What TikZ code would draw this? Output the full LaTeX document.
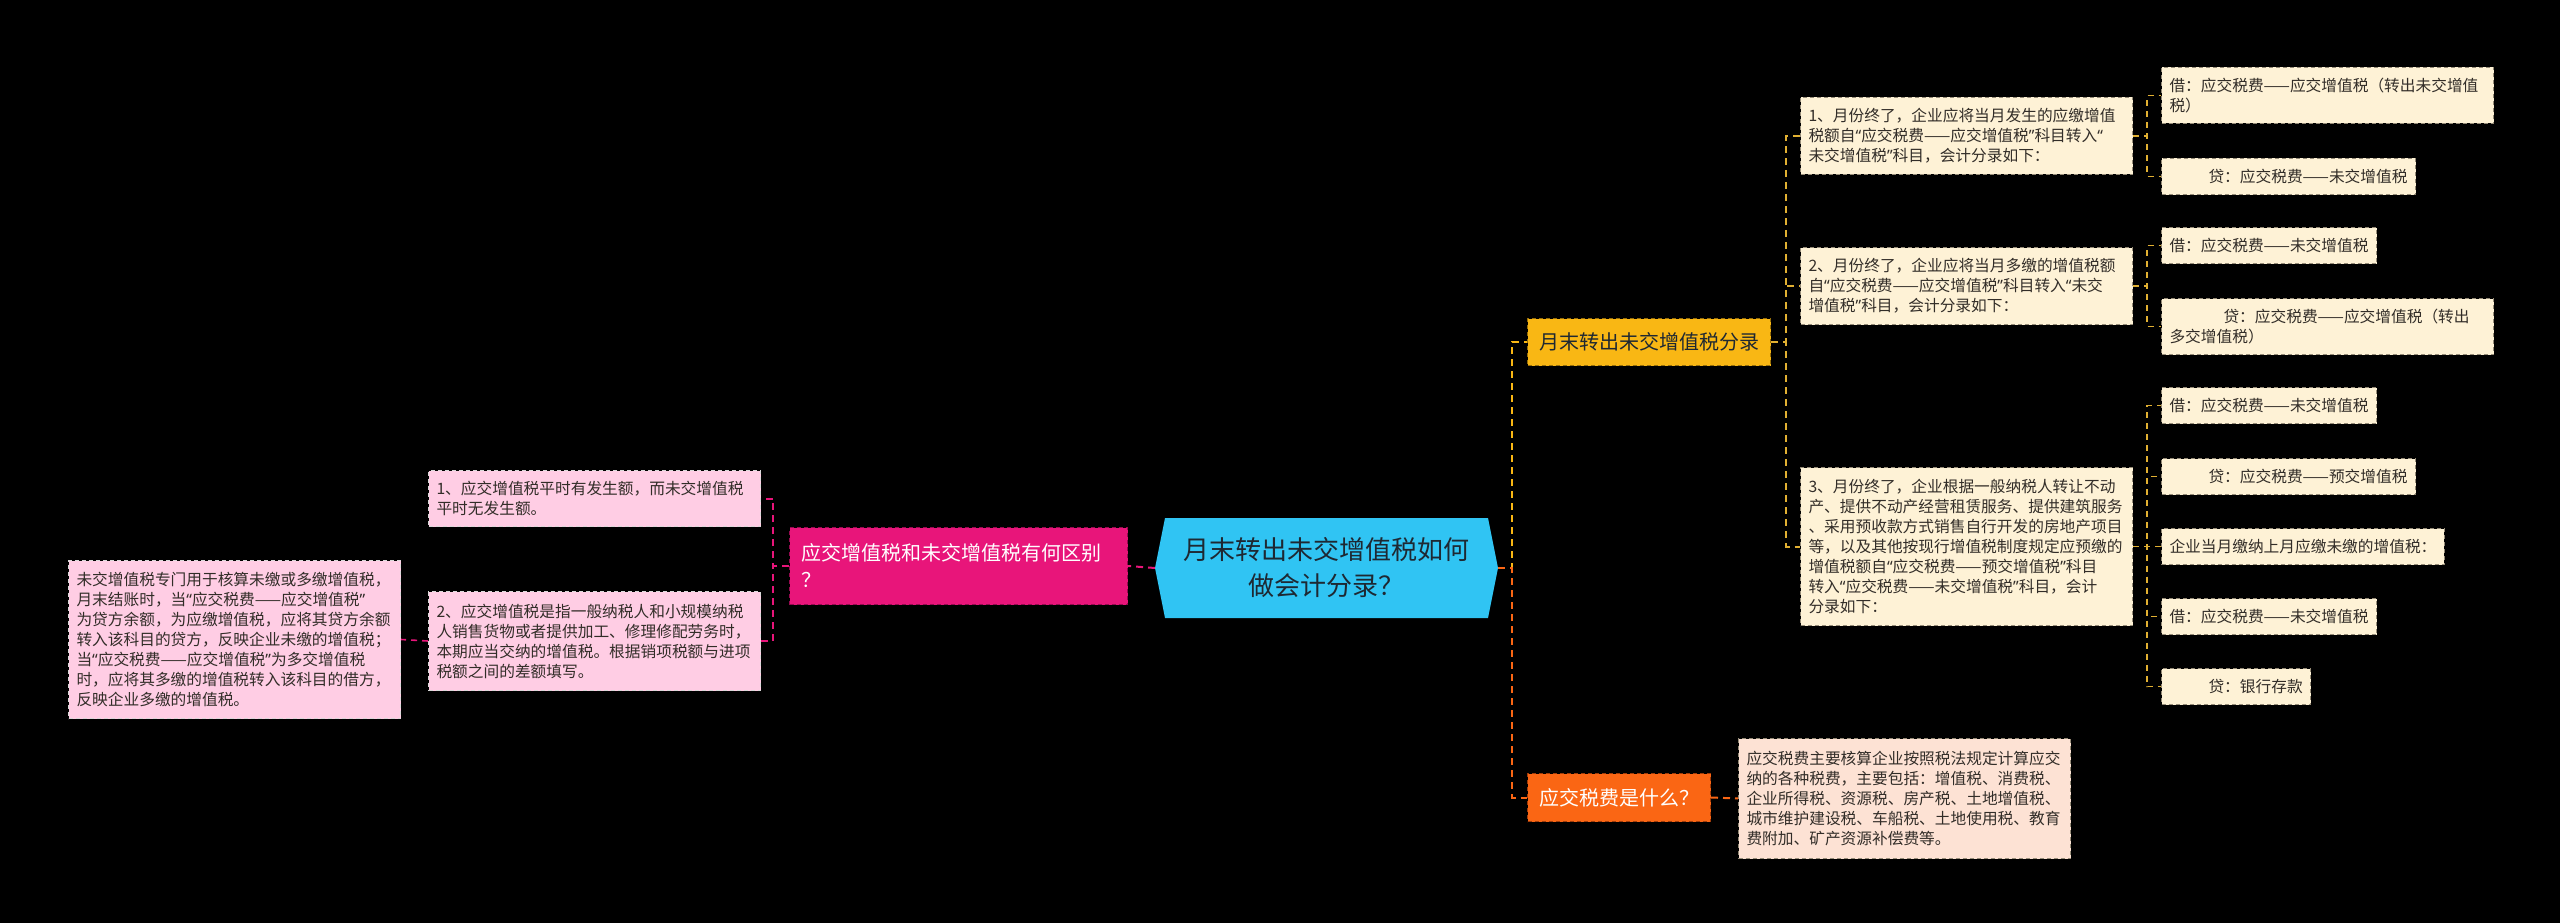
\documentclass[tikz,border=0pt]{standalone}
\usepackage{fontspec}
\setmainfont{Noto Sans CJK SC}
\newfontfamily\myqfont{Noto Sans}
\newcommand\myql{{\myqfont “}}
\newcommand\myqr{{\myqfont ”}}
\newcommand\myln[1]{\mbox{#1}}
\definecolor{rootc}{RGB}{48,196,243}
\definecolor{roott}{RGB}{30,40,50}
\definecolor{yel}{RGB}{249,183,20}
\definecolor{yelb}{RGB}{150,110,10}
\definecolor{ora}{RGB}{250,102,20}
\definecolor{orab}{RGB}{160,60,10}
\definecolor{mag}{RGB}{232,21,122}
\definecolor{magb}{RGB}{150,10,80}
\definecolor{pinkb}{RGB}{255,205,228}
\definecolor{cream}{RGB}{254,242,214}
\definecolor{peach}{RGB}{253,226,212}
\definecolor{txt}{RGB}{50,45,40}
\definecolor{ylline}{RGB}{225,176,50}
\definecolor{bord}{RGB}{150,140,120}
\tikzset{
  conn/.style={line width=2pt, dash pattern=on 7pt off 5pt},
  connb/.style={line width=1.6pt, dash pattern=on 6pt off 5pt},
  smallfont/.style={font=\fontsize{15.7}{20}\selectfont},
  multibox/.style={smallfont, anchor=north west, align=left, text width=316pt, inner xsep=8pt, inner ysep=0pt, text=txt, draw=bord, line width=1pt, dash pattern=on 4pt off 3pt},
  onebox/.style={smallfont, anchor=north west, inner xsep=8pt, inner ysep=0pt, minimum height=36pt, text=txt, fill=cream, draw=bord, line width=1pt, dash pattern=on 4pt off 3pt},
  lvone/.style={font=\fontsize{20}{27}\selectfont, inner xsep=11.5pt, inner ysep=0pt, line width=1pt, dash pattern=on 4pt off 3pt},
  roottext/.style={font=\fontsize{26}{36}\selectfont, align=center, text=roott, minimum width=323pt, minimum height=100pt, inner sep=0pt}
}
\begin{document}
\begin{tikzpicture}[x=1pt,y=-1pt]
\useasboundingbox (0,0) rectangle (2560,923);
\fill[black] (0,0) rectangle (2560,923);
% root
\fill[rootc] (1155,568) -- (1165,518) -- (1488,518) -- (1498,568) -- (1488,618) -- (1165,618) -- cycle;
\node[roottext] (root) at (1326.5,568) {月末转出未交增值税如何\\做会计分录？};
\coordinate (rootE) at (1498,568);
\coordinate (rootW) at (1155,568);
% level one
\node[lvone, fill=yel, draw=yelb, text=roott, anchor=north west, minimum height=47pt] (n1) at (1527,318) {月末转出未交增值税分录};
\node[lvone, fill=ora, draw=orab, text=white, anchor=north west, minimum height=48pt] (n2) at (1527,773) {应交税费是什么？};
\node[lvone, fill=mag, draw=magb, text=white, anchor=north west, align=left, text width=315pt, minimum height=77pt] (nL) at (789,527) {应交增值税和未交增值税有何区别\\？};
% right level two
\node[multibox, fill=cream, minimum height=77pt] (R1) at (1800,97) {\myln{1、月份终了，企业应将当月发生的应缴增值}\\\myln{税额自\myql 应交税费——应交增值税\myqr 科目转入\myql}\\\myln{未交增值税\myqr 科目，会计分录如下：}};
\node[multibox, fill=cream, minimum height=77pt] (R2) at (1800,247) {\myln{2、月份终了，企业应将当月多缴的增值税额}\\\myln{自\myql 应交税费——应交增值税\myqr 科目转入\myql 未交}\\\myln{增值税\myqr 科目，会计分录如下：}};
\node[multibox, fill=cream, minimum height=158pt] (R3) at (1800,467) {\myln{3、月份终了，企业根据一般纳税人转让不动}\\\myln{产、提供不动产经营租赁服务、提供建筑服务}\\\myln{、采用预收款方式销售自行开发的房地产项目}\\\myln{等，以及其他按现行增值税制度规定应预缴的}\\\myln{增值税额自\myql 应交税费——预交增值税\myqr 科目}\\\myln{转入\myql 应交税费——未交增值税\myqr 科目，会计}\\\myln{分录如下：}};
\node[multibox, fill=peach, minimum height=120pt] (P) at (1738,738) {\myln{应交税费主要核算企业按照税法规定计算应交}\\\myln{纳的各种税费，主要包括：增值税、消费税、}\\\myln{企业所得税、资源税、房产税、土地增值税、}\\\myln{城市维护建设税、车船税、土地使用税、教育}\\\myln{费附加、矿产资源补偿费等。}};
% right level three
\node[multibox, fill=cream, minimum height=56pt] (R1a) at (2161,67) {\myln{借：应交税费——应交增值税（转出未交增值}\\\myln{税）}};
\node[onebox] (R1b) at (2161,158) {\hspace*{39pt}贷：应交税费——未交增值税};
\node[onebox] (R2a) at (2161,227) {借：应交税费——未交增值税};
\node[multibox, fill=cream, minimum height=56pt] (R2b) at (2161,298) {\myln{\hspace*{54pt}贷：应交税费——应交增值税（转出}\\\myln{多交增值税）}};
\node[onebox] (R3a) at (2161,387) {借：应交税费——未交增值税};
\node[onebox] (R3b) at (2161,458) {\hspace*{39pt}贷：应交税费——预交增值税};
\node[onebox] (R3c) at (2161,528) {企业当月缴纳上月应缴未缴的增值税：};
\node[onebox] (R3d) at (2161,598) {借：应交税费——未交增值税};
\node[onebox] (R3e) at (2161,668) {\hspace*{39pt}贷：银行存款};
% left
\node[multibox, fill=pinkb, draw=white!70!gray, minimum height=56pt] (L1) at (428,470) {\myln{1、应交增值税平时有发生额，而未交增值税}\\\myln{平时无发生额。}};
\node[multibox, fill=pinkb, draw=white!70!gray, minimum height=99pt] (L2) at (428,591) {\myln{2、应交增值税是指一般纳税人和小规模纳税}\\\myln{人销售货物或者提供加工、修理修配劳务时，}\\\myln{本期应当交纳的增值税。根据销项税额与进项}\\\myln{税额之间的差额填写。}};
\node[multibox, fill=pinkb, draw=white!70!gray, minimum height=158pt] (F) at (68,560) {\myln{未交增值税专门用于核算未缴或多缴增值税，}\\\myln{月末结账时，当\myql 应交税费——应交增值税\myqr}\\\myln{为贷方余额，为应缴增值税，应将其贷方余额}\\\myln{转入该科目的贷方，反映企业未缴的增值税；}\\\myln{当\myql 应交税费——应交增值税\myqr 为多交增值税}\\\myln{时，应将其多缴的增值税转入该科目的借方，}\\\myln{反映企业多缴的增值税。}};
% connectors
\draw[conn, yel] (rootE) -- ++(14,0) |- (n1.west);
\draw[conn, ora] (rootE) -- ++(14,0) |- (n2.west);
\draw[conn, mag] (rootW) -- (nL.east);
\draw[conn, mag] (nL.west) -- ++(-16,0) |- (L1.east);
\draw[conn, mag] (nL.west) -- ++(-16,0) |- (L2.east);
\draw[connb, mag] (L2.west) -- (F.east);
\draw[conn, ylline] (n1.east) -- ++(15,0) |- (R1.west);
\draw[conn, ylline] (n1.east) -- ++(15,0) |- (R2.west);
\draw[conn, ylline] (n1.east) -- ++(15,0) |- (R3.west);
\draw[connb, ylline] (R1.east) -- ++(14,0) |- (R1a.west);
\draw[connb, ylline] (R1.east) -- ++(14,0) |- (R1b.west);
\draw[connb, ylline] (R2.east) -- ++(14,0) |- (R2a.west);
\draw[connb, ylline] (R2.east) -- ++(14,0) |- (R2b.west);
\draw[connb, ylline] (R3.east) -- ++(14,0) |- (R3a.west);
\draw[connb, ylline] (R3.east) -- ++(14,0) |- (R3b.west);
\draw[connb, ylline] (R3.east) -- ++(14,0) |- (R3c.west);
\draw[connb, ylline] (R3.east) -- ++(14,0) |- (R3d.west);
\draw[connb, ylline] (R3.east) -- ++(14,0) |- (R3e.west);
\draw[conn, ora] (n2.east) -- (P.west);
\end{tikzpicture}
\end{document}
